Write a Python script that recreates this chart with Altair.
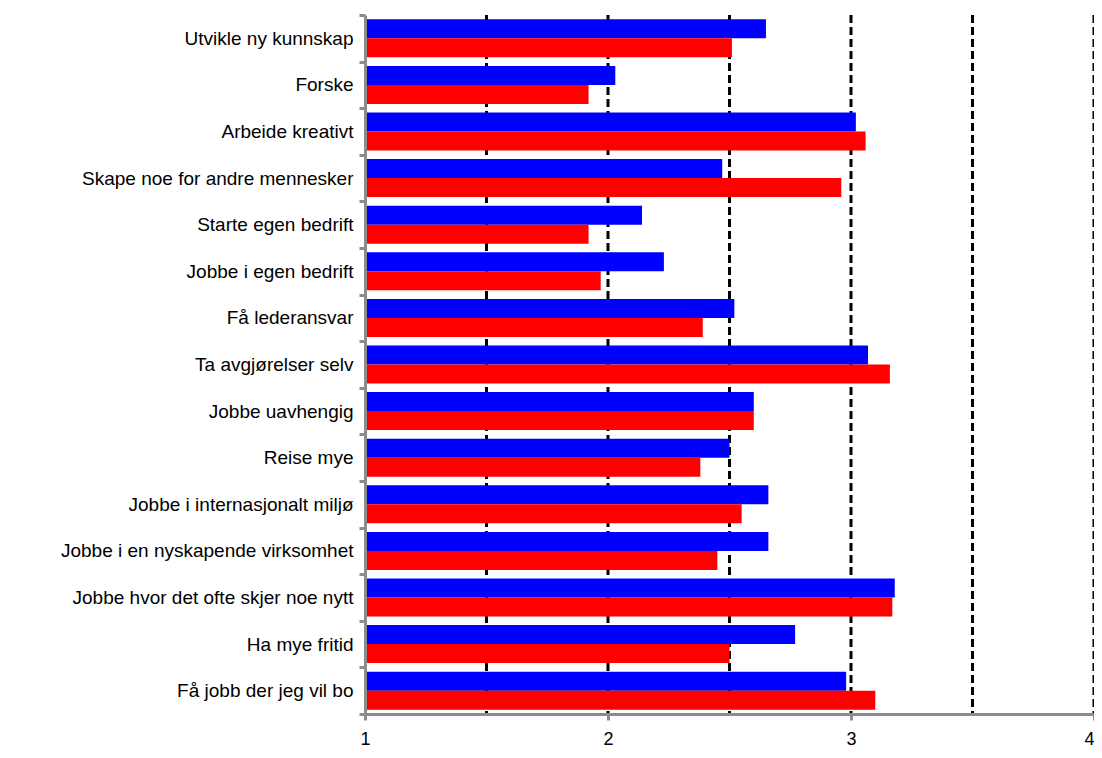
import altair as alt
import pandas as pd

categories = [
    "Utvikle ny kunnskap",
    "Forske",
    "Arbeide kreativt",
    "Skape noe for andre mennesker",
    "Starte egen bedrift",
    "Jobbe i egen bedrift",
    "Få lederansvar",
    "Ta avgjørelser selv",
    "Jobbe uavhengig",
    "Reise mye",
    "Jobbe i internasjonalt miljø",
    "Jobbe i en nyskapende virksomhet",
    "Jobbe hvor det ofte skjer noe nytt",
    "Ha mye fritid",
    "Få jobb der jeg vil bo",
]
blue_values = [2.65, 2.03, 3.02, 2.47, 2.14, 2.23, 2.52, 3.07, 2.60, 2.50, 2.66, 2.66, 3.18, 2.77, 2.98]
red_values = [2.51, 1.92, 3.06, 2.96, 1.92, 1.97, 2.39, 3.16, 2.60, 2.38, 2.55, 2.45, 3.17, 2.50, 3.10]
series_names = ["Serie 1", "Serie 2"]
series_colors = ["#0000ff", "#ff0000"]
grid_values = [1.5, 2, 2.5, 3, 3.5, 4]
x_ticks = [1, 2, 3, 4]

rows = []
for c, b, r in zip(categories, blue_values, red_values):
    rows.append({"kat": c, "serie": series_names[0], "verdi": b})
    rows.append({"kat": c, "serie": series_names[1], "verdi": r})
df = pd.DataFrame(rows)
grid_df = pd.DataFrame({"g": grid_values})

x_scale = alt.Scale(domain=[1, 4], nice=False, zero=False)
x_axis = alt.Axis(
    title=None, values=x_ticks, grid=False, format="d", labelFlush=False,
    labelAlign={"condition": {"test": "datum.value >= 4", "value": "right"}, "value": "center"},
    labelFont="Liberation Sans", labelFontSize=18, labelColor="black",
    labelPadding=10, domainColor="#8c8c8c", domainWidth=3,
    tickColor="#8c8c8c", tickWidth=3, tickSize=6, zindex=1,
)

grid = alt.Chart(grid_df).mark_rule(
    color="black", strokeWidth=3, strokeDash=[8, 4]
).encode(x=alt.X("g:Q", scale=x_scale, axis=x_axis))

bars = alt.Chart(df).mark_bar().encode(
    y=alt.Y(
        "kat:N", sort=categories,
        scale=alt.Scale(paddingInner=0, paddingOuter=0),
        axis=alt.Axis(
            title=None, tickBand="extent", labelFont="Liberation Sans",
            labelFontSize=19, labelColor="black", labelPadding=6,
            labelLimit=400, domainColor="#8c8c8c", domainWidth=3,
            tickColor="#8c8c8c", tickWidth=3, tickSize=6, zindex=1,
        ),
    ),
    yOffset=alt.YOffset(
        "serie:N", sort=series_names,
        scale=alt.Scale(paddingInner=0, paddingOuter=0.225),
    ),
    x=alt.X("verdi:Q", scale=x_scale, axis=x_axis),
    x2=alt.datum(1),
    color=alt.Color(
        "serie:N",
        scale=alt.Scale(domain=series_names, range=series_colors),
        legend=None,
    ),
)

chart = alt.layer(grid, bars).properties(
    width=729,
    height=699,
    autosize=alt.AutoSizeParams(type="none"),
    padding={"left": 357, "top": 7, "right": 0, "bottom": 35},
).configure_view(stroke=None)

chart.save("out.html", embed_options={"renderer": "svg", "actions": False})
